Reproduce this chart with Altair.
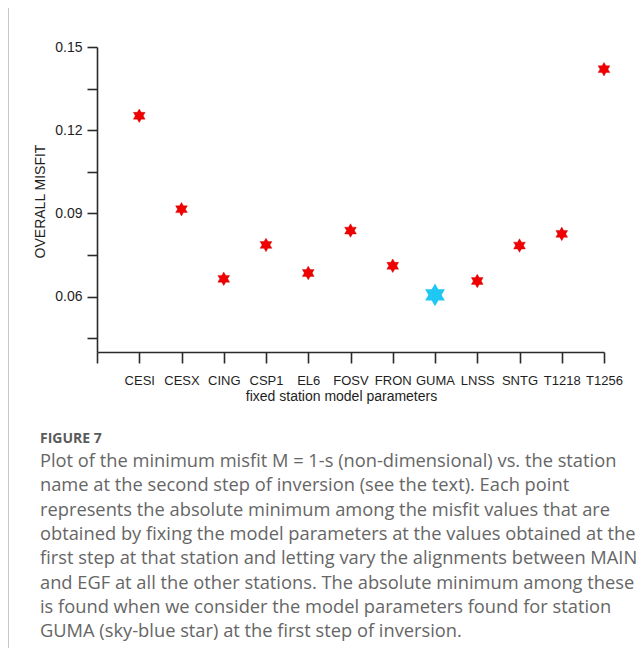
import json
import altair as alt
import pandas as pd

# ---------------- data ----------------
stations = ["CESI", "CESX", "CING", "CSP1", "EL6", "FOSV", "FRON",
            "GUMA", "LNSS", "SNTG", "T1218", "T1256"]
misfit = [0.1252, 0.0915, 0.0664, 0.0786, 0.0685, 0.0838, 0.0711,
          0.0606, 0.0656, 0.0784, 0.0826, 0.1420]
best_station = "GUMA"

y_ticks = [0.045, 0.06, 0.075, 0.09, 0.105, 0.12, 0.135, 0.15]
y_labels = ["0.06", "0.09", "0.12", "0.15"]

x_title = "fixed station model parameters"
y_title = "OVERALL MISFIT"

caption_head = "FIGURE 7"
caption_lines = [
    "Plot of the minimum misfit M = 1-s (non-dimensional) vs. the station",
    "name at the second step of inversion (see the text). Each point",
    "represents the absolute minimum among the misfit values that are",
    "obtained by fixing the model parameters at the values obtained at the",
    "first step at that station and letting vary the alignments between MAIN",
    "and EGF at all the other stations. The absolute minimum among these",
    "is found when we consider the model parameters found for station",
    "GUMA (sky-blue star) at the first step of inversion.",
]

# ---------------- tables ----------------
df = pd.DataFrame({
    "pos": list(range(1, len(stations) + 1)),
    "station": stations,
    "misfit": misfit,
})
df["best"] = df["station"] == best_station
one = pd.DataFrame({"k": [0]})

HEXAGRAM = ("M0,-1L0.2887,-0.5L0.866,-0.5L0.5774,0L0.866,0.5L0.2887,0.5"
            "L0,1L-0.2887,0.5L-0.866,0.5L-0.5774,0L-0.866,-0.5L-0.2887,-0.5Z")

AX_FONT = "Liberation Sans"
AX_COLOR = "#1e1e1e"
LINE_COLOR = "#2a2a2a"

x_label_expr = json.dumps([""] + stations) + "[datum.value]"
y_label_expr = ("indexof(" + json.dumps(y_labels) + ", format(datum.value, '.2f')) >= 0"
                " ? format(datum.value, '.2f') : ''")

x_enc = alt.X(
    "pos:Q",
    scale=alt.Scale(domain=[0, len(stations)], nice=False, zero=False),
    axis=alt.Axis(
        values=list(range(len(stations) + 1)),
        labelExpr=x_label_expr,
        title=x_title,
        grid=False,
        tickSize=11, tickWidth=1.6, tickColor=LINE_COLOR,
        domainWidth=1.6, domainColor=LINE_COLOR,
        labelFont=AX_FONT, labelFontSize=13, labelColor=AX_COLOR,
        labelPadding=11, labelFlush=False, labelOverlap=False,
        titleFont=AX_FONT, titleFontSize=14, titleFontWeight="normal",
        titleColor=AX_COLOR, titleX=244, titleY=48,
        titleAlign="center", titleBaseline="alphabetic",
    ),
)
y_enc = alt.Y(
    "misfit:Q",
    scale=alt.Scale(domain=[0.04, 0.15], nice=False, zero=False),
    axis=alt.Axis(
        values=y_ticks,
        labelExpr=y_label_expr,
        title=y_title,
        grid=False,
        tickSize=10, tickWidth=1.6, tickColor=LINE_COLOR,
        domainWidth=1.6, domainColor=LINE_COLOR,
        labelFont=AX_FONT, labelFontSize=14, labelColor=AX_COLOR,
        labelPadding=5, labelFlush=False, labelOverlap=False,
        titleFont=AX_FONT, titleFontSize=14, titleFontWeight="normal",
        titleColor=AX_COLOR, titleX=-57, titleY=154, titleAngle=270,
        titleAlign="center", titleBaseline="middle",
    ),
)

base = alt.Chart(df).encode(x=x_enc, y=y_enc)

red_stars = base.transform_filter("!datum.best").mark_point(
    shape=HEXAGRAM, filled=True, size=185, color="#f00000", opacity=1,
    stroke="#c80000", strokeWidth=0.4,
)
blue_star = base.transform_filter("datum.best").mark_point(
    shape=HEXAGRAM, filled=True, size=520, color="#1ec8f2", opacity=1,
)

BORDER = "#c8c8c8"
top_border = alt.Chart(one).mark_rule(color=BORDER, strokeWidth=1).encode(
    x=alt.value(-89), x2=alt.value(539), y=alt.value(-39.5))
left_border = alt.Chart(one).mark_rule(color=BORDER, strokeWidth=1).encode(
    x=alt.value(-88.5), y=alt.value(-39.5), y2=alt.value(601))

head = alt.Chart(one).mark_text(
    text=caption_head, font="Open Sans", fontSize=14, fontWeight="bold",
    color="#5a5a5a", align="left", baseline="alphabetic",
).encode(x=alt.value(-57), y=alt.value(396))

caption = alt.Chart(one).mark_text(
    text=caption_lines, font="Open Sans", fontSize=18.3, fontWeight="normal",
    lineHeight=24.3, color="#666666", align="left", baseline="alphabetic",
).encode(x=alt.value(-57), y=alt.value(420))

chart = alt.layer(
    top_border, left_border, red_stars, blue_star, head, caption
).properties(
    width=507, height=305,
    autosize=alt.AutoSizeParams(type="none"),
    padding={"left": 89, "top": 39, "right": 32, "bottom": 296},
    background="white",
).configure_view(stroke=None)

chart.save("out.html", embed_options={"renderer": "svg", "actions": False})
